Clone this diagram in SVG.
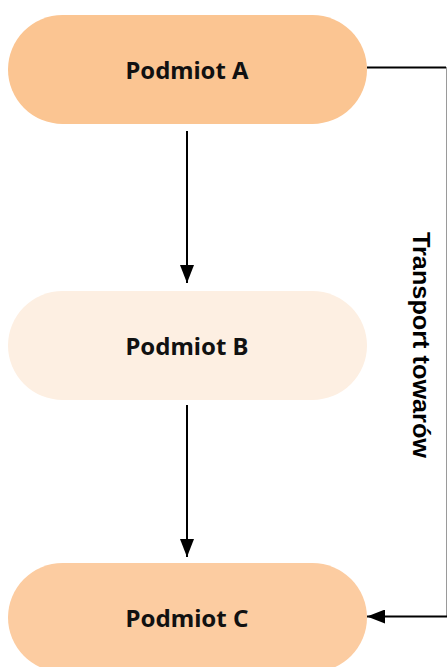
<svg xmlns="http://www.w3.org/2000/svg" width="447" height="667" viewBox="0 0 447 667">
  <style>
    .node-label { font-family: "Noto Sans", "Open Sans", sans-serif; font-weight: bold; font-size: 23.5px; fill: #111; text-anchor: middle; }
    .edge { stroke: #000; stroke-width: 2; fill: none; }
    .edge-thin { stroke: #9a9a9a; stroke-width: 1; fill: none; }
    .edge-label { font-family: "Liberation Sans", Arial, sans-serif; font-weight: bold; font-size: 24px; fill: #000; text-anchor: middle; }
  </style>
  <defs>
    <marker id="arrow" viewBox="0 0 18 14" refX="18" refY="7" markerWidth="18" markerHeight="14" markerUnits="userSpaceOnUse" orient="auto">
      <path d="M0,0 L18,7 L0,14 Z" fill="#000"/>
    </marker>
  </defs>
  <rect width="447" height="667" fill="#fff"/>

  <g id="connectors">
    <!-- A to B -->
    <line class="edge" x1="187" y1="131" x2="187" y2="283" marker-end="url(#arrow)"/>
    <!-- B to C -->
    <line class="edge" x1="187" y1="405" x2="187" y2="557" marker-end="url(#arrow)"/>
    <!-- A to C along the right side -->
    <line class="edge" x1="367" y1="67.5" x2="446" y2="67.5"/>
    <line class="edge-thin" x1="446.5" y1="67" x2="446.5" y2="617"/>
    <line class="edge" x1="447" y1="616.5" x2="367" y2="616.5" marker-end="url(#arrow)"/>
    <text class="edge-label" transform="translate(413,345) rotate(90)" x="0" y="0" textLength="226" lengthAdjust="spacingAndGlyphs">Transport towarów</text>
  </g>

  <g id="node-a">
    <rect x="8" y="15" width="359" height="109" rx="54.5" ry="54.5" fill="#fbc592"/>
    <text class="node-label" x="187" y="78.5" textLength="123" lengthAdjust="spacingAndGlyphs">Podmiot A</text>
  </g>

  <g id="node-b">
    <rect x="8" y="291" width="359" height="109" rx="54.5" ry="54.5" fill="#fdefe2"/>
    <text class="node-label" x="187" y="354.5" textLength="123" lengthAdjust="spacingAndGlyphs">Podmiot B</text>
  </g>

  <g id="node-c">
    <rect x="8" y="563" width="359" height="109" rx="54.5" ry="54.5" fill="#fccca1"/>
    <text class="node-label" x="187" y="626.5" textLength="123" lengthAdjust="spacingAndGlyphs">Podmiot C</text>
  </g>
</svg>
